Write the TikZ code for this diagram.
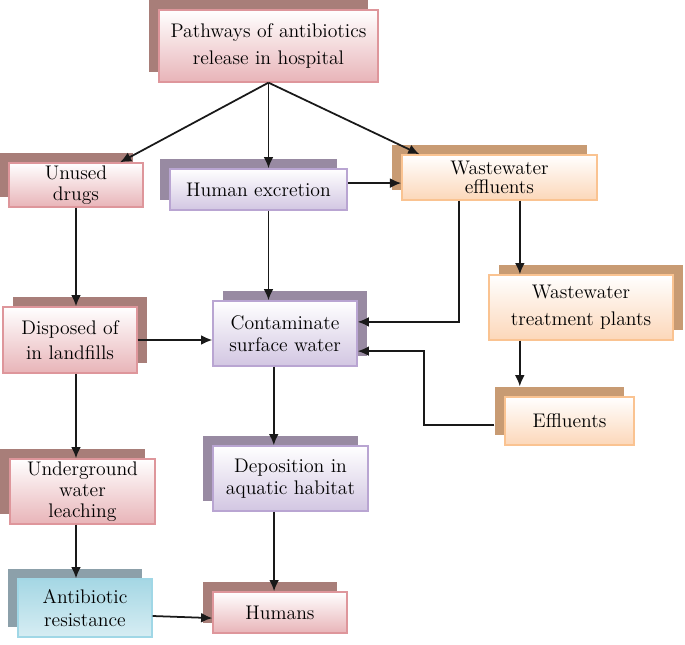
\documentclass[tikz,border=0pt]{standalone}
\usetikzlibrary{shadows,arrows.meta}

\definecolor{shR}{RGB}{168,126,121}
\definecolor{bdR}{RGB}{222,150,155}
\definecolor{flR}{RGB}{232,180,184}
\definecolor{shV}{RGB}{152,138,162}
\definecolor{bdV}{RGB}{185,165,210}
\definecolor{flV}{RGB}{210,198,226}
\definecolor{shO}{RGB}{200,155,115}
\definecolor{bdO}{RGB}{250,195,145}
\definecolor{flO}{RGB}{252,215,185}
\definecolor{shC}{RGB}{140,160,170}
\definecolor{bdC}{RGB}{160,215,230}
\definecolor{flC}{RGB}{165,215,228}

\tikzstyle{bx}=[rectangle,line width=0.9pt,inner sep = 0pt,align=center,text=black,font=\fontsize{14}{16}\selectfont]
\tikzstyle{bR}=[bx,draw=bdR,top color=white,bottom color=flR]
\tikzstyle{bV}=[bx,draw=bdV,top color=white,bottom color=flV]
\tikzstyle{bO}=[bx,draw=bdO,top color=white,bottom color=flO]
\tikzstyle{bC}=[bx,draw=bdC,top color=flC,bottom color=white!55!flC]
\tikzstyle{aS}=[line width=1.25pt,black!90,-{Latex[length=8pt,width=7pt]}]
\tikzset{
  upL/.style={general shadow={shadow xshift=-0.25cm,shadow yshift=0.25cm,fill=#1}},
  upR/.style={general shadow={shadow xshift=0.25cm,shadow yshift=0.25cm,fill=#1}}
}

\begin{document}
\begin{tikzpicture}[x=0.025cm,y=-0.025cm]
    \useasboundingbox (0,0) rectangle (685,645);
    \draw (268.5,46) node[bR,upL=shR,minimum width=5.48cm,minimum height=1.8cm] (path) {Pathways of antibiotics\\[3pt]release in hospital};
    \draw (76,185) node[bR,upL=shR,minimum width=3.35cm,minimum height=1.1cm] (unused) {Unused\\[-1pt]drugs};
    \draw (258.5,189.5) node[bV,upL=shV,minimum width=4.43cm,minimum height=1.03cm] (human) {Human excretion};
    \draw (499.5,177.5) node[bO,upL=shO,minimum width=4.88cm,minimum height=1.13cm] (wweff) {Wastewater\\[-2pt]effluents};
    \draw (581,307.5) node[bO,upR=shO,minimum width=4.6cm,minimum height=1.63cm] (wwtp) {Wastewater\\[3pt]treatment plants};
    \draw (569.5,421) node[bO,upL=shO,minimum width=3.23cm,minimum height=1.2cm] (effl) {Effluents};
    \draw (70,340) node[bR,upR=shR,minimum width=3.35cm,minimum height=1.65cm] (disposed) {Disposed of\\[2pt]in landfills};
    \draw (285,333.5) node[bV,upR=shV,minimum width=3.6cm,minimum height=1.63cm] (contam) {Contaminate\\surface water};
    \draw (82.5,491.5) node[bR,upL=shR,minimum width=3.63cm,minimum height=1.63cm] (under) {Underground\\[-1pt]water\\[-1pt]leaching};
    \draw (290.5,478.5) node[bV,upL=shV,minimum width=3.88cm,minimum height=1.63cm] (depo) {Deposition in\\aquatic habitat};
    \draw (85,608) node[bC,upL=shC,minimum width=3.35cm,minimum height=1.45cm] (anti) {Antibiotic\\resistance};
    \draw (280,612.5) node[bR,upL=shR,minimum width=3.35cm,minimum height=1.03cm] (humans) {Humans};
    \coordinate (hE) at ([yshift=0.16cm]human.east);
    % top fan
    \draw[aS] (path.south) -- ([xshift=1.1cm]unused.north);
    \draw[aS] (path.south) -- (path.south |- human.north);
    \draw[aS] (path.south) -- ([xshift=-2cm]wweff.north);
    \draw[aS] (hE) -- (wweff.west |- hE);
    % left column
    \draw[aS] (unused.south) -- (unused.south |- disposed.north);
    \draw[aS] (disposed.south -| unused.south) -- (under.north -| unused.south);
    \draw[aS] (under.south -| unused.south) -- (anti.north -| unused.south);
    \draw[aS] (disposed.east) -- (contam.west |- disposed.east);
    % middle column
    \draw[aS] (human.south -| path.south) -- (contam.north -| path.south);
    \draw[aS] ([xshift=-0.28cm]contam.south) -- ([xshift=-0.28cm]contam.south |- depo.north);
    \draw[aS] ([xshift=-0.41cm]depo.south) -- ([xshift=-0.41cm]depo.south |- humans.north);
    \draw[aS] ([yshift=-0.2cm]anti.east) -- ([yshift=-0.14cm]humans.west);
    % right column
    \draw[aS] ([xshift=-1.01cm]wweff.south) |- ([yshift=0.29cm]contam.east);
    \draw[aS] ([xshift=0.51cm]wweff.south) -- ([xshift=0.51cm]wweff.south |- wwtp.north);
    \draw[aS] ([xshift=-1.53cm]wwtp.south) -- ([xshift=-1.53cm,yshift=0.25cm]wwtp.south |- effl.north);
    \draw[aS] ([xshift=-0.25cm,yshift=-0.1cm]effl.west) -- ++(-70,0) |- ([yshift=-0.44cm]contam.east);
\end{tikzpicture}
\end{document}
